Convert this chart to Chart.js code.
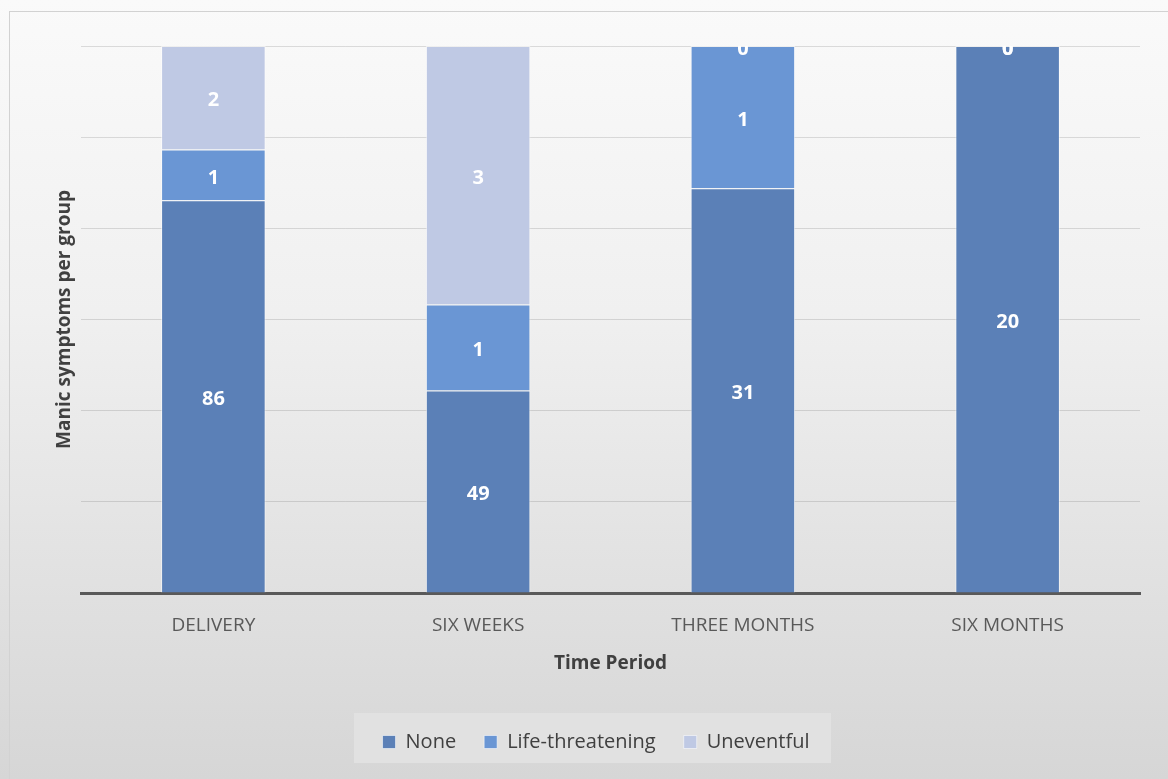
<!DOCTYPE html>
<html lang="en">
<head>
<meta charset="UTF-8">
<title>Manic symptoms per group</title>
<script src="https://cdn.jsdelivr.net/npm/chart.js"></script>
<style>
  html, body { margin: 0; padding: 0; overflow: hidden; }
  body {
    width: 1168px; height: 779px;
    background: linear-gradient(to bottom, #fafafa 0%, #f0f0f0 40%, #d6d6d6 100%);
    position: relative;
  }
  #frame {
    position: absolute; left: 9px; top: 11px; width: 1200px; height: 800px;
    border: 1px solid #d2d2d2; box-sizing: border-box;
  }
  #legendBox {
    position: absolute; left: 354px; top: 713px; width: 477px; height: 50px;
    background: #e1e1e1;
  }
  #wrap { position: absolute; left: 0; top: 0; width: 1168px; height: 779px; }
</style>
</head>
<body>
<div id="frame"></div>
<div id="legendBox"></div>
<div id="wrap"><canvas id="chart"></canvas></div>
<script>
// categories
const periods = ["DELIVERY", "SIX WEEKS", "THREE MONTHS", "SIX MONTHS"];

// bar heights (share of the stack, %)
const noneShare = [71.8, 37.0, 74.0, 100];
const lifeShare = [9.3, 15.75, 26.0, 0];
const unevShare = [18.9, 47.25, 0, 0];

// numbers printed on the bars
const noneCount = [86, 49, 31, 20];
const lifeCount = [1, 1, 1, 0];
const unevCount = [2, 3, 0, 0];

const font = "'Open Sans', 'Noto Sans', sans-serif";

// white numbers in the middle of each segment
const barLabels = {
  id: "barLabels",
  afterDatasetsDraw(chart) {
    const ctx = chart.ctx;
    const area = chart.chartArea;
    ctx.save();
    ctx.beginPath();
    ctx.rect(area.left, area.top, area.right - area.left, area.bottom - area.top);
    ctx.clip();
    ctx.fillStyle = "#ffffff";
    ctx.font = "bold 20px " + font;
    ctx.textAlign = "center";
    ctx.textBaseline = "middle";
    chart.data.datasets.forEach((ds, i) => {
      const meta = chart.getDatasetMeta(i);
      meta.data.forEach((bar, j) => {
        const y = bar.y + (bar.base - bar.y) / 2 + 3;
        ctx.fillText(String(ds.counts[j]), bar.x, y);
      });
    });
    ctx.restore();
  }
};

// centre the legend on the full chart box (which runs past the window)
const legendShift = {
  id: "legendShift",
  afterLayout(chart) {
    const lg = chart.legend;
    const d = 596 - (lg.left + lg.right) / 2;
    lg.left += d;
    lg.right += d;
  }
};

new Chart(document.getElementById("chart").getContext("2d"), {
  type: "bar",
  data: {
    labels: periods,
    datasets: [
      { label: "None", data: noneShare, counts: noneCount, backgroundColor: "#5b80b7" },
      { label: "Life-threatening", data: lifeShare, counts: lifeCount, backgroundColor: "#6a96d4" },
      { label: "Uneventful", data: unevShare, counts: unevCount, backgroundColor: "#bfc9e4" }
    ].map(d => Object.assign(d, {
      borderColor: "rgba(255,255,255,0.55)",
      borderWidth: 1,
      categoryPercentage: 1,
      barPercentage: 0.395
    }))
  },
  options: {
    responsive: true,
    maintainAspectRatio: false,
    animation: false,
    layout: { padding: { top: 46, right: 28, left: 0, bottom: 17 } },
    plugins: {
      tooltip: { enabled: false },
      legend: {
        position: "bottom",
        labels: {
          color: "#404040",
          font: { family: font, size: 20 },
          boxWidth: 13,
          boxHeight: 13,
          padding: 28
        }
      }
    },
    scales: {
      x: {
        stacked: true,
        grid: { display: false, drawTicks: false },
        border: { color: "#595959", width: 3 },
        ticks: { color: "#595959", font: { family: font, size: 19 }, padding: 21 },
        title: {
          display: true, text: "Time Period", color: "#404040",
          font: { family: font, size: 19, weight: "bold" },
          padding: { top: 4, bottom: 29 }
        },
        afterFit(scale) { scale.height = 111; }
      },
      y: {
        stacked: true,
        min: 0, max: 100,
        ticks: { display: false, count: 7 },
        grid: { color: "rgba(0,0,0,0.12)", drawTicks: false },
        border: { display: false },
        title: {
          display: true, text: "Manic symptoms per group", color: "#404040",
          font: { family: font, size: 19, weight: "bold" },
          padding: { top: 53, bottom: 0 }
        },
        afterFit(scale) { scale.width = 81; }
      }
    }
  },
  plugins: [barLabels, legendShift]
});
</script>
</body>
</html>
